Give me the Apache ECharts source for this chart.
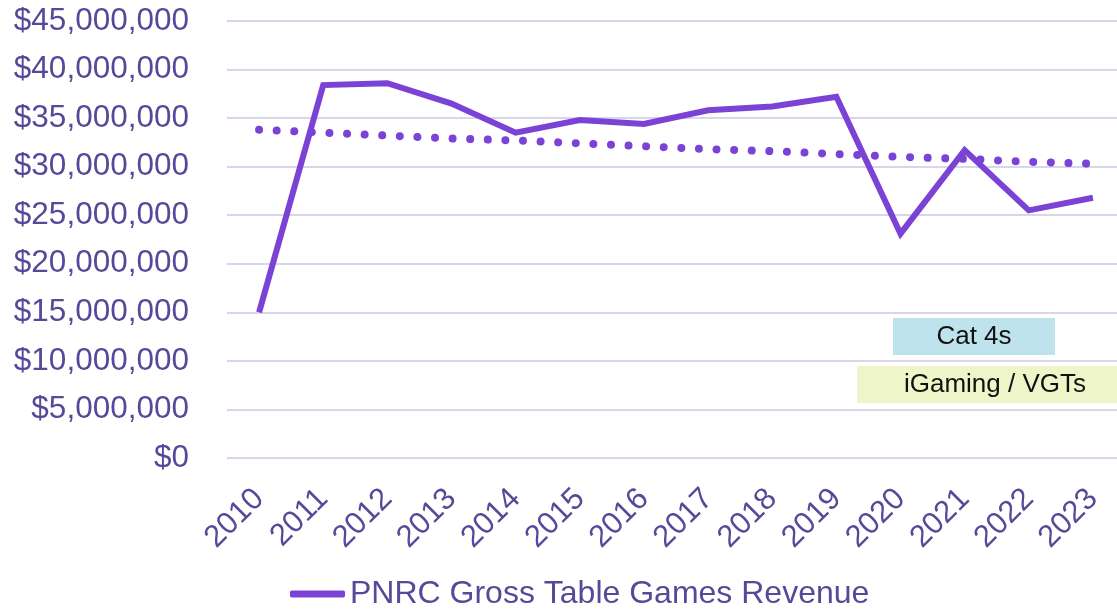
<!DOCTYPE html>
<html>
<head>
<meta charset="utf-8">
<script src="https://cdn.jsdelivr.net/npm/echarts@6/dist/echarts.min.js"></script>
<style>
  html, body { margin: 0; padding: 0; background: #fff; }
  #chart { width: 1117px; height: 612px; }
</style>
</head>
<body>
<div id="chart"></div>
<script>
// years on the x axis
var years = ["2010", "2011", "2012", "2013", "2014", "2015", "2016",
  "2017", "2018", "2019", "2020", "2021", "2022", "2023"];
// gross table games revenue
var revenue = [15000000, 38400000, 38600000, 36500000, 33500000, 34800000, 34400000,
  35800000, 36200000, 37200000, 23100000, 31700000, 25500000, 26800000];
// dotted trend line
var trend = [33800000, 33500000, 33200000, 32900000, 32700000, 32400000, 32100000,
  31800000, 31600000, 31300000, 31000000, 30800000, 30500000, 30300000];
var seriesName = "PNRC Gross Table Games Revenue";

var labelColor = "#544a99";
var lineColor = "#7b42d6";
var fontFamily = "'Liberation Sans', Arial, sans-serif";

var myChart = echarts.init(document.getElementById("chart"), null, { renderer: "canvas" });

var option = {
  animation: false,
  backgroundColor: "#ffffff",
  textStyle: { fontFamily: fontFamily },
  grid: {
    left: 227,
    width: 898,
    top: 21,
    bottom: 154,
    outerBoundsMode: "none"
  },
  legend: {
    data: [seriesName],
    left: 290,
    top: 578,
    padding: 0,
    itemWidth: 55,
    itemHeight: 7,
    itemGap: 5,
    icon: "roundRect",
    itemStyle: { color: lineColor },
    textStyle: { color: labelColor, fontSize: 32, fontFamily: fontFamily, padding: [0, 0, 0, 0] }
  },
  xAxis: {
    type: "category",
    data: years,
    boundaryGap: true,
    axisLine: { show: false },
    axisTick: { show: false },
    axisLabel: {
      color: labelColor,
      fontSize: 31,
      rotate: 45,
      margin: 36,
      interval: 0,
      fontFamily: fontFamily
    }
  },
  yAxis: {
    type: "value",
    min: 0,
    max: 45000000,
    interval: 5000000,
    axisLine: { show: false },
    axisTick: { show: false },
    splitLine: { lineStyle: { color: "#d9d5ea", width: 2 } },
    axisLabel: {
      color: labelColor,
      fontSize: 31.5,
      margin: 38,
      fontFamily: fontFamily,
      formatter: function (v) {
        return "$" + v.toLocaleString("en-US");
      }
    }
  },
  series: [
    {
      name: seriesName,
      type: "line",
      data: revenue,
      symbol: "none",
      lineStyle: { color: lineColor, width: 6, join: "miter" },
      itemStyle: { color: lineColor },
      z: 3
    },
    {
      name: "Trend",
      type: "line",
      data: trend,
      symbol: "none",
      lineStyle: {
        color: lineColor,
        width: 8,
        type: [0.01, 17.6],
        cap: "round"
      },
      z: 2
    }
  ],
  graphic: [
    {
      type: "rect",
      shape: { x: 893, y: 318, width: 162, height: 37 },
      style: { fill: "#bee3ec" },
      z: 10
    },
    {
      type: "text",
      x: 974,
      y: 337,
      style: {
        text: "Cat 4s",
        fill: "#111111",
        font: "26px " + fontFamily,
        textAlign: "center",
        textVerticalAlign: "middle"
      },
      z: 11
    },
    {
      type: "rect",
      shape: { x: 857, y: 366, width: 260, height: 37 },
      style: { fill: "#eef5c8" },
      z: 10
    },
    {
      type: "text",
      x: 995,
      y: 385,
      style: {
        text: "iGaming / VGTs",
        fill: "#111111",
        font: "26px " + fontFamily,
        textAlign: "center",
        textVerticalAlign: "middle"
      },
      z: 11
    }
  ]
};

myChart.setOption(option);

window.addEventListener("resize", function () {
  myChart.resize();
});
</script>
</body>
</html>
